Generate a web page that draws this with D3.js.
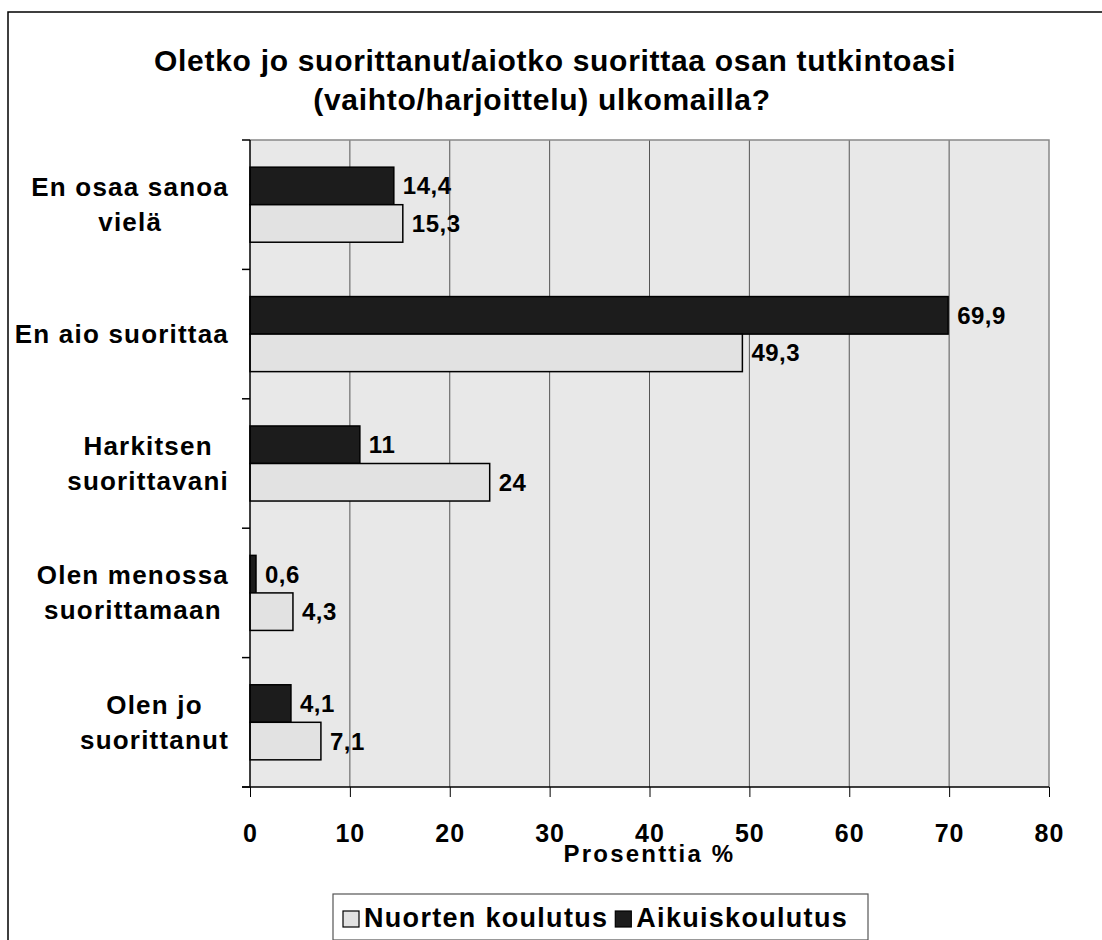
<!DOCTYPE html>
<html><head><meta charset="utf-8">
<script src="https://cdn.jsdelivr.net/npm/d3@7"></script>
<style>body{margin:0;background:#fff}svg{display:block}text{font-family:"Liberation Sans",Arial,sans-serif;font-weight:bold;fill:#000}</style>
</head><body>
<script>
const categories = ["En osaa sanoa vielä","En aio suorittaa","Harkitsen suorittavani","Olen menossa suorittamaan","Olen jo suorittanut"];
const categoryLines = [["En osaa sanoa","vielä"],["En aio suorittaa"],["Harkitsen","suorittavani"],["Olen menossa","suorittamaan"],["Olen jo","suorittanut"]];
const seriesNames = ["Aikuiskoulutus","Nuorten koulutus"];
const aikuiskoulutus = [14.4, 69.9, 11, 0.6, 4.1];
const nuortenKoulutus = [15.3, 49.3, 24, 4.3, 7.1];
const xTicks = [0,10,20,30,40,50,60,70,80];
const titleLines = ["Oletko jo suorittanut/aiotko suorittaa osan tutkintoasi","(vaihto/harjoittelu) ulkomailla?"];
const xTitle = "Prosenttia %";
const legendOrder = ["Nuorten koulutus","Aikuiskoulutus"];

const colors = {"Aikuiskoulutus":"#1c1c1c","Nuorten koulutus":"#e2e2e2"};
const values = {"Aikuiskoulutus":aikuiskoulutus,"Nuorten koulutus":nuortenKoulutus};
const fmt = v => String(v).replace(".", ",");

const W=1102,H=940;
const svg=d3.select("body").append("svg").attr("width",W).attr("height",H);
svg.append("rect").attr("x",8).attr("y",12).attr("width",1110).attr("height",950).attr("fill","#fff").attr("stroke","#000").attr("stroke-width",1.5);

const L=250,R=1049,T=140,B=787;
const x=d3.scaleLinear().domain([0,80]).range([L,R]);
const p=0.42;
const y=d3.scaleBand().domain(categories).range([T,B]).paddingInner(p).paddingOuter(p/2);
const ys=d3.scaleBand().domain(seriesNames).range([0,y.bandwidth()]);

// title
const titleX=[555,542];
svg.append("g").selectAll("text").data(titleLines).join("text")
  .attr("x",(d,i)=>titleX[i]).attr("y",(d,i)=>71+i*39).attr("text-anchor","middle")
  .style("font-size","30px").style("letter-spacing","0.7px").text(d=>d);

// plot bg
svg.append("rect").attr("x",L).attr("y",T).attr("width",R-L).attr("height",B-T).attr("fill","#e8e8e8");
// grid
svg.append("g").selectAll("line").data(xTicks.filter(t=>t>0&&t<80)).join("line")
  .attr("x1",d=>x(d)).attr("x2",d=>x(d)).attr("y1",T).attr("y2",B).attr("stroke","#555").attr("stroke-width",1);
// top/right frame
svg.append("path").attr("d",`M${L},${T}H${R}V${B}`).attr("fill","none").attr("stroke","#888").attr("stroke-width",1.5);

// bars
categories.forEach((c,i)=>{
  seriesNames.forEach(s=>{
    const v=values[s][i];
    const by=y(c)+ys(s);
    svg.append("rect").attr("x",x(0)).attr("y",by).attr("width",x(v)-x(0)).attr("height",ys.bandwidth())
      .attr("fill",colors[s]).attr("stroke","#000").attr("stroke-width",1.5);
    svg.append("text").attr("x",x(v)+9).attr("y",by+ys.bandwidth()/2+8.5)
      .style("font-size","24px").style("letter-spacing","0.5px").text(fmt(v));
  });
});

// axes
const xa=d3.axisBottom(x).tickValues(xTicks).tickSize(10);
const gx=svg.append("g").attr("transform",`translate(0,${B})`).call(xa);
gx.select(".domain").attr("stroke","#000").attr("stroke-width",1.5).attr("d",`M${L-8},0H${R}`);
gx.selectAll(".tick line").attr("stroke","#000");
gx.selectAll(".tick text").attr("y",55).attr("dy",null)
  .style("font-size","25px").style("letter-spacing","1px").style("font-family","Liberation Sans, Arial, sans-serif").style("font-weight","bold").attr("fill","#000");

svg.append("line").attr("x1",L).attr("x2",L).attr("y1",T).attr("y2",B).attr("stroke","#000").attr("stroke-width",1.5);
const step=y.step();
d3.range(categories.length+1).forEach(i=>{
  const ty=T+i*step;
  svg.append("line").attr("x1",L-8).attr("x2",L).attr("y1",ty).attr("y2",ty).attr("stroke","#000").attr("stroke-width",1.5);
});

svg.append("text").attr("x",(L+R)/2).attr("y",862).attr("text-anchor","middle")
  .style("font-size","24px").style("letter-spacing","2.2px").text(xTitle);

// category labels
categories.forEach((c,i)=>{
  const lines=categoryLines[i];
  const cy=y(c)+y.bandwidth()/2;
  const g=svg.append("g");
  const ts=lines.map((ln,j)=>g.append("text").attr("y",cy+9+(j-(lines.length-1)/2)*35)
    .style("font-size","26px").style("letter-spacing","1.2px").text(ln));
  const maxW=d3.max(ts,t=>t.node().getComputedTextLength());
  const cx=229-maxW/2;
  ts.forEach(t=>t.attr("x",cx).attr("text-anchor","middle"));
});

// legend
const lg=svg.append("g");
lg.append("rect").attr("x",333).attr("y",894).attr("width",535).attr("height",46).attr("fill","#fff").attr("stroke","#555").attr("stroke-width",1.2);
let lx=343;
legendOrder.forEach(s=>{
  lg.append("rect").attr("x",lx).attr("y",911).attr("width",16).attr("height",16).attr("fill",colors[s]).attr("stroke","#000").attr("stroke-width",1.2);
  const t=lg.append("text").attr("x",lx+21).attr("y",927).style("font-size","27px").style("letter-spacing","1.3px").text(s);
  lx+=21+t.node().getComputedTextLength()+7;
});
</script>
</body></html>
